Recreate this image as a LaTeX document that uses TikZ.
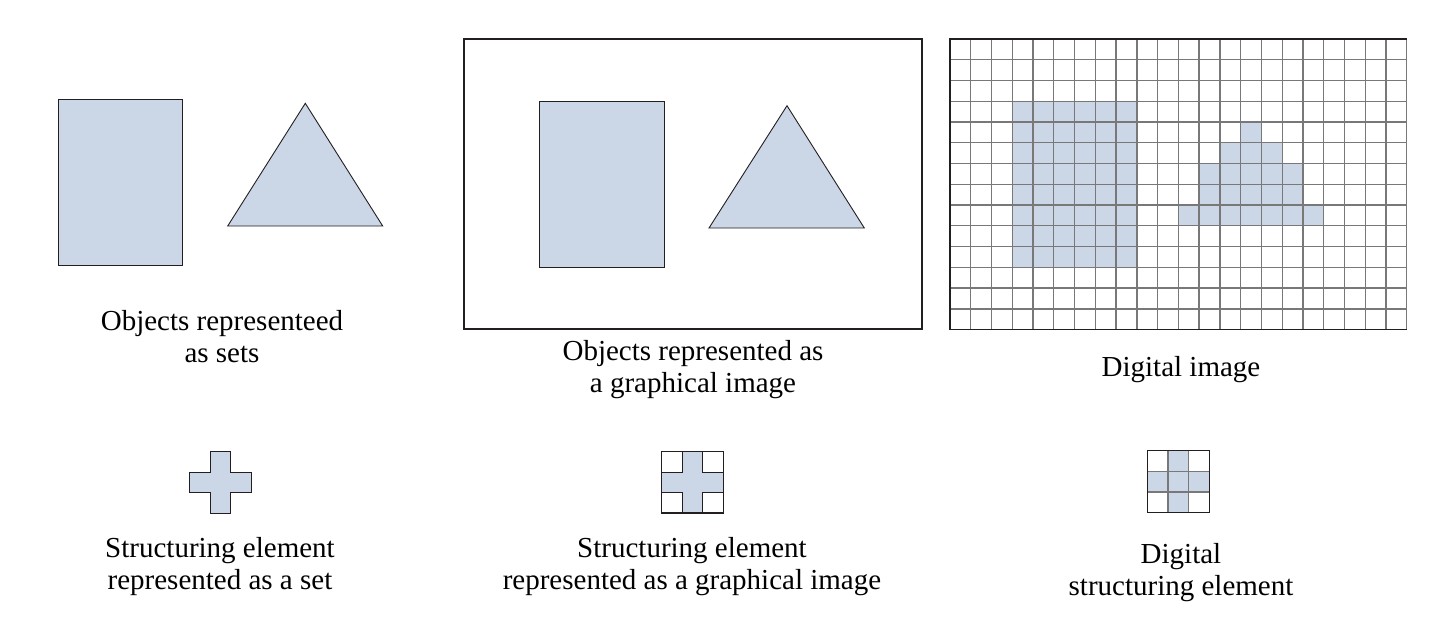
\documentclass[tikz,border=0pt]{standalone}
\usepackage{fontspec}
\setmainfont{Liberation Serif}

\definecolor{setblue}{RGB}{203,214,230}
\definecolor{gridgray}{RGB}{120,120,120}
\definecolor{inkdark}{RGB}{35,31,32}

\begin{document}
\begin{tikzpicture}[
    x=1pt,y=-1pt,
    setshape/.style={draw=inkdark,fill=setblue,line width=0.9pt},
    imgframe/.style={draw=inkdark,line width=1.8pt},
    gridline/.style={draw=gridgray,line width=1.3pt},
    pixel/.style={fill=setblue},
    caption/.style={align=center,anchor=base,inner sep=0pt,font=\fontsize{29}{31.5}\selectfont}
]
\useasboundingbox (0,0) rectangle (1441,619);

\def \CELL {20.76} % size of one pixel of the digital image
\def \GX {950}      % left edge of the digital image
\def \GY {39}       % top edge of the digital image

% Objects as sets
\draw[setshape] (58.3,99.3) rectangle (182.7,265);
\draw[setshape] (305.3,103.3) -- (382.7,226) -- (227.7,226) -- cycle;

% Objects as a graphical image
\draw[imgframe] (464.3,39) rectangle (921.7,329);
\draw[setshape] (539.3,101) rectangle (664.3,267.3);
\draw[setshape] (787,105.7) -- (864.3,228) -- (709,228) -- cycle;

% Digital image: object pixels
\fill[pixel] ({\GX+3*\CELL},{\GY+3*\CELL}) rectangle ({\GX+9*\CELL},{\GY+11*\CELL});
\foreach \r/\a/\b in {4/14/15,5/13/16,6/12/17,7/12/17,8/11/18} {
    \fill[pixel] ({\GX+\a*\CELL},{\GY+\r*\CELL}) rectangle ({\GX+\b*\CELL},{\GY+(\r+1)*\CELL});
}
% Digital image: grid
\foreach \i in {0,...,22} {
    \draw[gridline] ({\GX+\i*\CELL},\GY) -- ({\GX+\i*\CELL},{\GY+14*\CELL});
}
\foreach \j in {0,...,14} {
    \draw[gridline] (\GX,{\GY+\j*\CELL}) -- ({\GX+22*\CELL},{\GY+\j*\CELL});
}
\draw[imgframe,line width=1.4pt] ({\GX+22*\CELL},\GY) -- (\GX,\GY) -- (\GX,{\GY+14*\CELL}) -- ({\GX+22*\CELL},{\GY+14*\CELL});

% Structuring element as a set
\begin{scope}[shift={(189.3,451.7)},x=20.7pt,y=-20.5pt]
    \draw[setshape] (1,0) -- (2,0) -- (2,1) -- (3,1) -- (3,2) -- (2,2) -- (2,3) -- (1,3) -- (1,2) -- (0,2) -- (0,1) -- (1,1) -- cycle;
\end{scope}

% Structuring element as a graphical image
\begin{scope}[shift={(661.7,451.7)},x=20.6pt,y=-20.4pt]
    \draw[setshape] (1,0) -- (2,0) -- (2,1) -- (3,1) -- (3,2) -- (2,2) -- (2,3) -- (1,3) -- (1,2) -- (0,2) -- (0,1) -- (1,1) -- cycle;
    \draw[imgframe,line width=1.4pt] (0,0) rectangle (3,3);
\end{scope}

% Digital structuring element
\begin{scope}[shift={(1147.3,450.7)},x=20.67pt,y=-20.67pt]
    \fill[pixel] (1,0) rectangle (2,3);
    \fill[pixel] (0,1) rectangle (3,2);
    \foreach \i in {1,2} {
        \draw[gridline] (\i,0) -- (\i,3);
        \draw[gridline] (0,\i) -- (3,\i);
    }
    \draw[imgframe,line width=1.4pt] (0,0) rectangle (3,3);
\end{scope}

% Captions (base = baseline of the last line)
\node[caption] (capsets) at (222,362) {Objects representeed\\as sets};
\node[caption] (capgraph) at (693,392) {Objects represented as\\a graphical image};
\node[caption] (capdigital) at (1181,376.5) {Digital image};
\node[caption] (capseset) at (220,589) {Structuring element\\represented as a set};
\node[caption] (capsegraph) at (692,589) {Structuring element\\represented as a graphical image};
\node[caption] (capsedigital) at (1181,595) {Digital\\structuring element};

\end{tikzpicture}
\end{document}
